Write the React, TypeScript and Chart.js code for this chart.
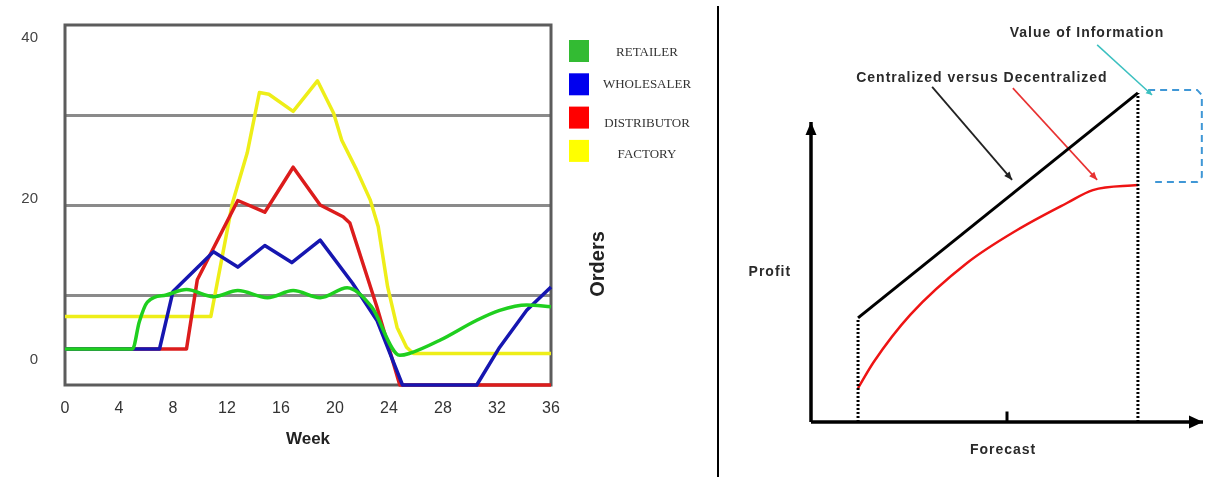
import React, { useEffect, useRef } from 'react';
import { Chart, registerables } from 'chart.js';

Chart.register(...registerables);

// ---------------- Left chart: beer game orders ----------------
const weekTicks = [0, 4, 8, 12, 16, 20, 24, 28, 32, 36];
const orderTickLabels = [0, 20, 40];
const orderGridLines = [10, 20, 30];
const seriesNames = ['RETAILER', 'WHOLESALER', 'DISTRIBUTOR', 'FACTORY'];
const seriesColors = ['#1fcf1f', '#1616b0', '#dc1c1c', '#eeee18'];
const legendColors = ['#33bb33', '#0000ee', '#ff0000', '#ffff00'];

const retailerWeeks = [0, 5, 5.5, 6.1, 7.5, 9, 11, 12.8, 15, 16.9, 18.9, 20.9, 22.7, 24.8, 25.5, 27.8, 30.5, 32.2, 34.2, 36];
const retailerOrders = [4, 4, 7, 9.2, 10, 10.6, 9.8, 10.5, 9.7, 10.5, 9.7, 10.8, 8.7, 3.3, 3.5, 5, 7.2, 8.3, 8.9, 8.7];

const wholesalerWeeks = [0, 7, 8, 11, 12.8, 14.8, 16.8, 18.9, 21.3, 23.1, 25, 30.5, 32.2, 34.2, 36];
const wholesalerOrders = [4, 4, 10.4, 14.8, 13.1, 15.5, 13.6, 16.1, 11.3, 7.2, 0, 0, 4.2, 8.3, 10.9];

const distributorWeeks = [0, 9, 9.8, 12.8, 14.8, 16.9, 18.9, 20.6, 21.1, 23.1, 24.8, 36];
const distributorOrders = [4, 4, 11.7, 20.5, 19.2, 24.2, 20, 18.7, 18, 8.7, 0, 0];

const factoryWeeks = [0, 10.8, 12.4, 13.5, 14.4, 15.1, 16.9, 18.7, 19.9, 20.5, 21.6, 22.6, 23.2, 23.9, 24.6, 25.3, 25.8, 36];
const factoryOrders = [7.6, 7.6, 20.2, 25.8, 32.5, 32.3, 30.4, 33.8, 30.2, 27.2, 23.9, 20.6, 17.6, 10.9, 6.4, 4.2, 3.5, 3.5];

// ---------------- Right chart: value of information diagram ----------------
const forecastAxis = [0, 10];
const profitAxis = [0, 10];
const forecastMidTick = 5;
const forecastBounds = [1.2, 8.34];
const centralizedProfit = [3.47, 10.97];
const decentralizedForecast = [1.2, 1.6, 2.53, 3.98, 5.26, 6.53, 7.19, 8.34];
const decentralizedProfit = [1.13, 2.0, 3.57, 5.3, 6.4, 7.3, 7.73, 7.9];
const valueGapForecast = [8.6, 9.85, 9.97, 9.97, 9.85, 8.78];
const valueGapProfit = [11.07, 11.07, 10.9, 8.17, 8.0, 8.0];
const centralPointerX = [3.09, 5.13];
const centralPointerY = [11.17, 8.07];
const decentralPointerX = [5.15, 7.3];
const decentralPointerY = [11.13, 8.07];
const valuePointerX = [7.3, 8.7];
const valuePointerY = [12.57, 10.9];
const diagramLabels = ['Value of Information', 'Centralized versus Decentralized', 'Profit', 'Forecast'];
const diagramLabelX = [7.04, 4.36, -1.05, 4.9];
const diagramLabelY = [12.97, 11.47, 5, -0.93];

const zip = (xs: number[], ys: number[]) => xs.map((x, i) => ({ x, y: ys[i] }));

const SANS = '"Liberation Sans", Arial, sans-serif';
const SERIF = '"Liberation Serif", "Times New Roman", serif';

const leftDecor = {
  id: 'leftDecor',
  beforeDatasetsDraw(chart: any) {
    const { ctx, chartArea: a } = chart;
    ctx.save();
    ctx.strokeStyle = '#5c5c5c';
    ctx.lineWidth = 3;
    ctx.strokeRect(a.left, a.top, a.right - a.left, a.bottom - a.top);
    ctx.restore();
  },
  afterDraw(chart: any) {
    const { ctx, chartArea: a } = chart;
    ctx.save();
    const textShift = [2, 0, 6, 4];
    seriesNames.forEach((name, i) => {
      const top = a.top + 15 + i * 33.3;
      ctx.fillStyle = legendColors[i];
      ctx.fillRect(a.right + 18, top, 20, 22);
      ctx.fillStyle = '#333';
      ctx.font = '13px ' + SERIF;
      ctx.textAlign = 'center';
      ctx.textBaseline = 'middle';
      ctx.fillText(name, a.right + 96, top + 11 + textShift[i]);
    });
    ctx.translate(a.right + 47, 264);
    ctx.rotate(-Math.PI / 2);
    ctx.font = 'bold 20px ' + SANS;
    ctx.fillStyle = '#222';
    ctx.textAlign = 'center';
    ctx.textBaseline = 'middle';
    ctx.fillText('Orders', 0, 0);
    ctx.restore();
  },
};

function leftConfig(): any {
  const seriesData = [
    zip(retailerWeeks, retailerOrders),
    zip(wholesalerWeeks, wholesalerOrders),
    zip(distributorWeeks, distributorOrders),
    zip(factoryWeeks, factoryOrders),
  ];
  return {
    type: 'line',
    data: {
      datasets: seriesNames.map((name, i) => ({
        label: name,
        data: seriesData[i],
        borderColor: seriesColors[i],
        backgroundColor: seriesColors[i],
        borderWidth: 3.5,
        pointRadius: 0,
        borderJoinStyle: 'round',
        cubicInterpolationMode: i === 0 ? 'monotone' : 'default',
        tension: 0,
        clip: false,
      })),
    },
    options: {
      animation: false,
      responsive: false,
      devicePixelRatio: 1,
      layout: { padding: { left: 0, top: 25, right: 165, bottom: 0 } },
      plugins: { legend: { display: false }, tooltip: { enabled: false } },
      scales: {
        x: {
          type: 'linear',
          min: 0,
          max: 36,
          afterBuildTicks: (s: any) => {
            s.ticks = weekTicks.map((v) => ({ value: v }));
          },
          grid: { display: false, drawTicks: false },
          border: { display: false },
          ticks: { padding: 14, color: '#333', font: { family: SANS, size: 16 }, autoSkip: false, maxRotation: 0 },
          title: { display: true, text: 'Week', color: '#222', font: { family: SANS, size: 17, weight: 'bold' }, padding: { top: 0, bottom: 27 } },
          afterFit: (s: any) => {
            s.height = 92;
          },
        },
        y: {
          type: 'linear',
          position: 'left',
          min: 0,
          max: 40,
          afterBuildTicks: (s: any) => {
            s.ticks = orderGridLines.map((v) => ({ value: v }));
          },
          grid: { color: '#8a8a8a', lineWidth: 3, drawTicks: false },
          border: { display: false },
          ticks: { display: false, padding: 0 },
          afterFit: (s: any) => {
            s.width = 27;
          },
        },
        yLabels: {
          type: 'linear',
          position: 'left',
          min: -3.1,
          max: 41.6,
          afterBuildTicks: (s: any) => {
            s.ticks = orderTickLabels.map((v) => ({ value: v }));
          },
          grid: { display: false, drawTicks: false },
          border: { display: false },
          ticks: { padding: 0, color: '#444', font: { family: SANS, size: 15 }, autoSkip: false },
          afterFit: (s: any) => {
            s.width = 38;
          },
        },
      },
    },
    plugins: [leftDecor],
  };
}

const rightDecor = {
  id: 'rightDecor',
  afterDatasetsDraw(chart: any) {
    const { ctx } = chart;
    ctx.save();
    chart.data.datasets.forEach((ds: any, i: number) => {
      if (!ds.arrowHead) return;
      const pts = chart.getDatasetMeta(i).data;
      const tip = pts[pts.length - 1];
      const prev = pts[pts.length - 2];
      const ang = Math.atan2(tip.y - prev.y, tip.x - prev.x);
      const L = ds.arrowHead[0];
      const W = ds.arrowHead[1];
      const bx = tip.x - L * Math.cos(ang);
      const by = tip.y - L * Math.sin(ang);
      ctx.beginPath();
      ctx.moveTo(tip.x, tip.y);
      ctx.lineTo(bx + W * Math.sin(ang), by - W * Math.cos(ang));
      ctx.lineTo(bx - W * Math.sin(ang), by + W * Math.cos(ang));
      ctx.closePath();
      ctx.fillStyle = ds.borderColor;
      ctx.fill();
    });
    const xs = chart.scales.x;
    const ys = chart.scales.y;
    ctx.fillStyle = '#2a2a2a';
    ctx.font = 'bold 14px ' + SANS;
    (ctx as any).letterSpacing = '1px';
    ctx.textAlign = 'center';
    ctx.textBaseline = 'middle';
    diagramLabels.forEach((t, i) => {
      ctx.fillText(t, xs.getPixelForValue(diagramLabelX[i]), ys.getPixelForValue(diagramLabelY[i]));
    });
    ctx.restore();
  },
};

function rightConfig(): any {
  const base = { pointRadius: 0, tension: 0, clip: false, fill: false };
  return {
    type: 'line',
    data: {
      datasets: [
        { ...base, label: 'Forecast axis', data: zip(forecastAxis, [0, 0]), borderColor: '#000', borderWidth: 3.5, arrowHead: [14, 6.5] },
        { ...base, label: 'Profit axis', data: zip([0, 0], profitAxis), borderColor: '#000', borderWidth: 3.5, arrowHead: [13, 5.5] },
        { ...base, label: 'Mid tick', data: zip([forecastMidTick, forecastMidTick], [0, 0.35]), borderColor: '#000', borderWidth: 3 },
        { ...base, label: 'Low bound', data: zip([forecastBounds[0], forecastBounds[0]], [0, centralizedProfit[0]]), borderColor: '#000', borderWidth: 3, borderDash: [2, 2] },
        { ...base, label: 'High bound', data: zip([forecastBounds[1], forecastBounds[1]], [0, centralizedProfit[1]]), borderColor: '#000', borderWidth: 3, borderDash: [2, 2] },
        { ...base, label: 'Centralized', data: zip(forecastBounds, centralizedProfit), borderColor: '#000', borderWidth: 3 },
        { ...base, label: 'Decentralized', data: zip(decentralizedForecast, decentralizedProfit), borderColor: '#ee1414', borderWidth: 2.5, cubicInterpolationMode: 'monotone' },
        { ...base, label: 'Value gap', data: zip(valueGapForecast, valueGapProfit), borderColor: '#3f97d6', borderWidth: 2, borderDash: [7, 5] },
        { ...base, label: 'Centralized pointer', data: zip(centralPointerX, centralPointerY), borderColor: '#222', borderWidth: 1.8, arrowHead: [8, 3.5] },
        { ...base, label: 'Decentralized pointer', data: zip(decentralPointerX, decentralPointerY), borderColor: '#e83232', borderWidth: 1.6, arrowHead: [8, 3.5] },
        { ...base, label: 'Value pointer', data: zip(valuePointerX, valuePointerY), borderColor: '#3cc0c0', borderWidth: 1.5, arrowHead: [6, 3] },
      ],
    },
    options: {
      animation: false,
      responsive: false,
      devicePixelRatio: 1,
      layout: { padding: { left: 91, right: 3, top: 92, bottom: 55 } },
      plugins: { legend: { display: false }, tooltip: { enabled: false } },
      scales: {
        x: { type: 'linear', min: 0, max: 10, display: false },
        y: { type: 'linear', min: 0, max: 11, display: false },
      },
    },
    plugins: [rightDecor],
  };
}

export default function App() {
  const leftRef = useRef<HTMLCanvasElement>(null);
  const rightRef = useRef<HTMLCanvasElement>(null);
  useEffect(() => {
    const left = new Chart(leftRef.current as HTMLCanvasElement, leftConfig());
    const right = new Chart(rightRef.current as HTMLCanvasElement, rightConfig());
    return () => {
      left.destroy();
      right.destroy();
    };
  }, []);
  return (
    <div style={{ position: 'fixed', left: 0, top: 0, width: 1206, height: 477, background: '#fff', overflow: 'hidden' }}>
      <canvas ref={leftRef} width={716} height={477} style={{ position: 'absolute', left: 0, top: 0, width: 716, height: 477 }} />
      <div style={{ position: 'absolute', left: 717, top: 6, width: 2, height: 471, background: '#000' }} />
      <canvas ref={rightRef} width={486} height={477} style={{ position: 'absolute', left: 720, top: 0, width: 486, height: 477 }} />
    </div>
  );
}
